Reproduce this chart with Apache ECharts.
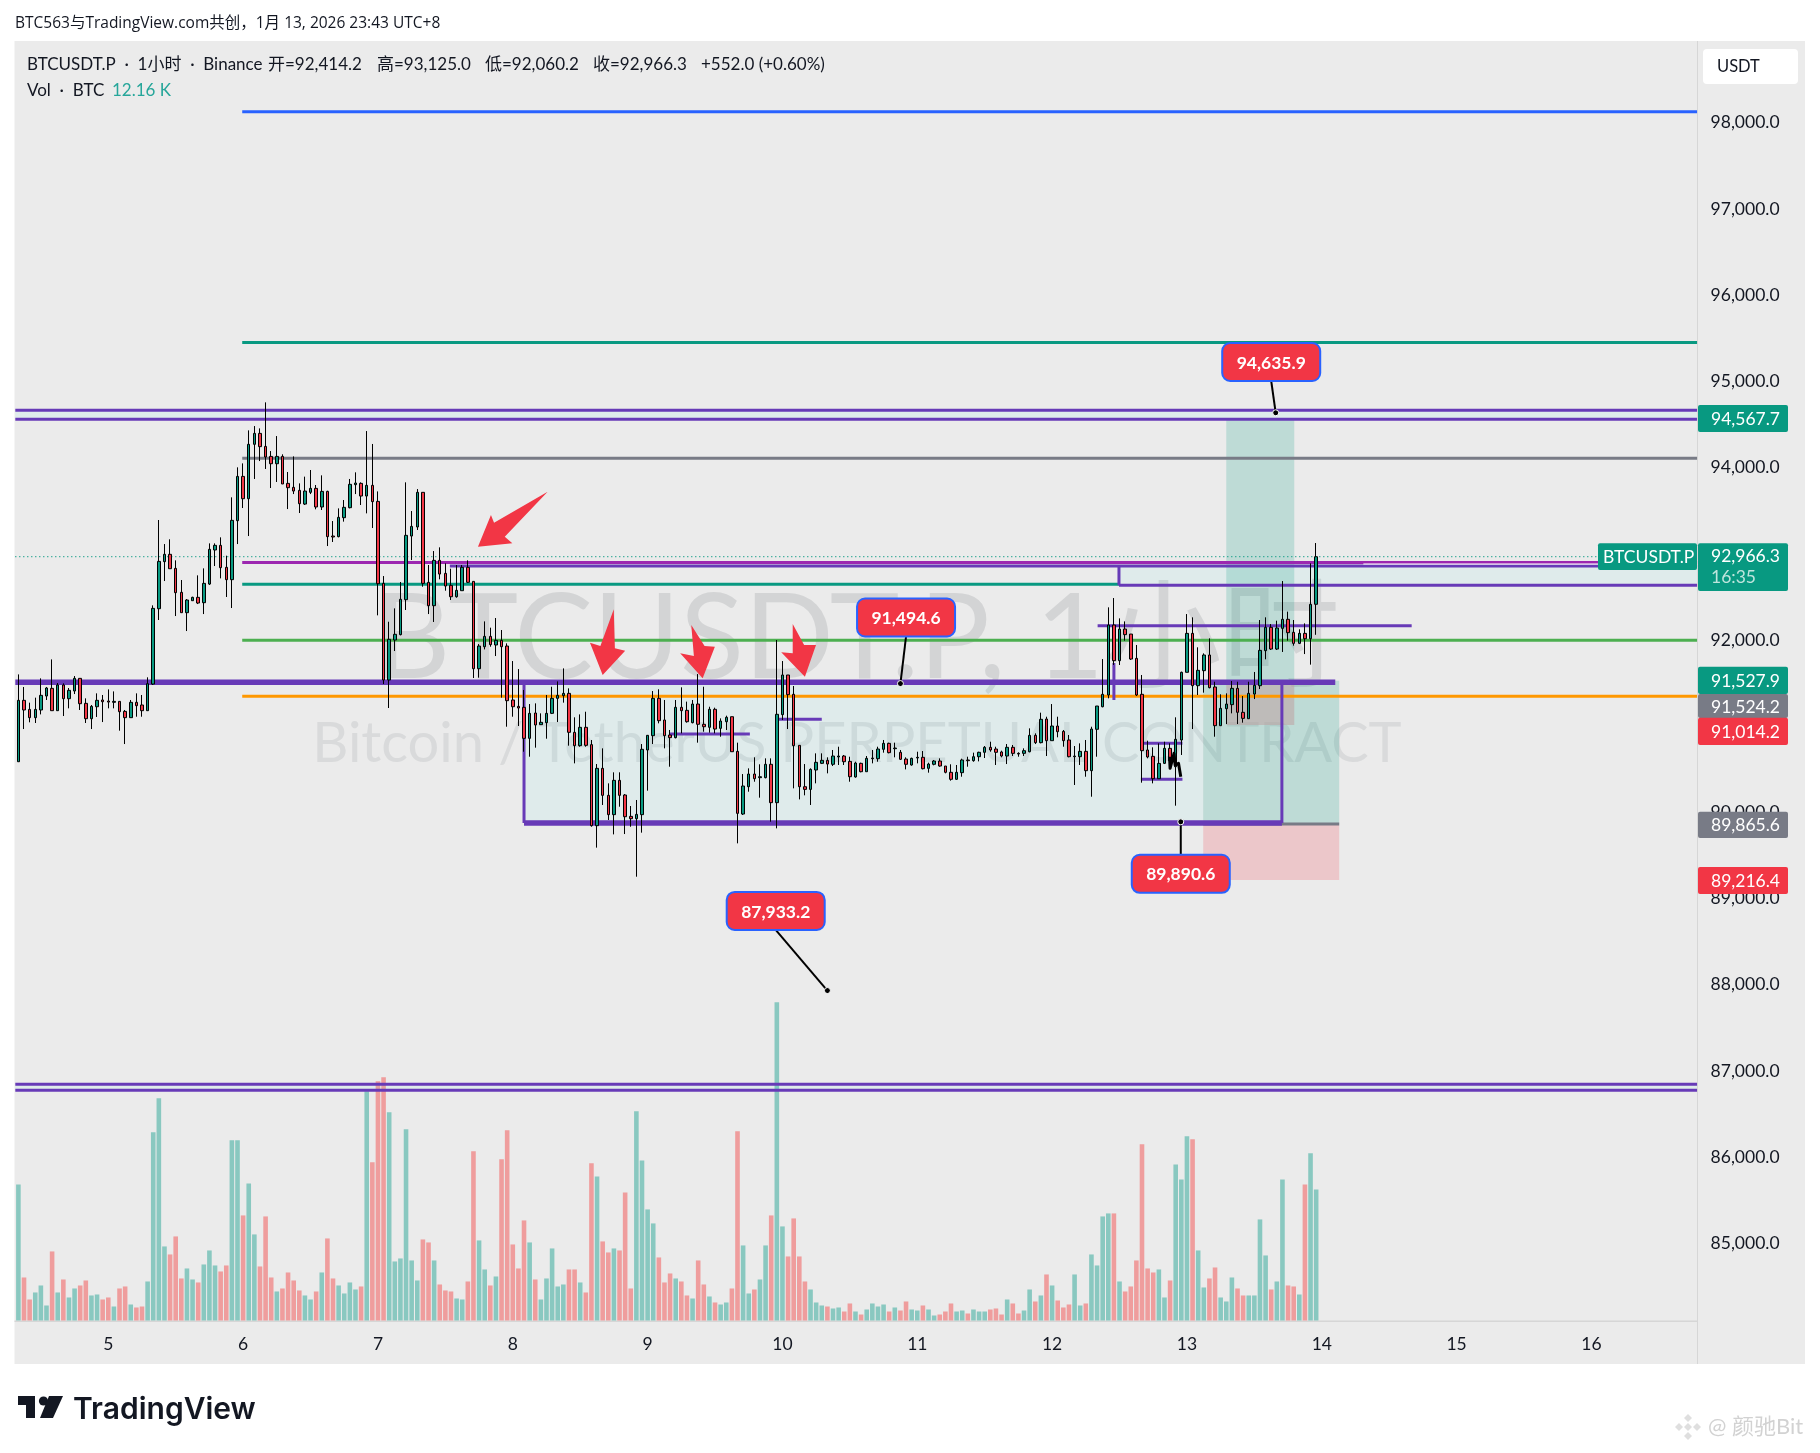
<!DOCTYPE html>
<html>
<head>
<meta charset="utf-8">
<title>BTCUSDT.P 1H</title>
<script src="https://cdn.jsdelivr.net/npm/echarts@6/dist/echarts.min.js"></script>
<style>
html, body { margin: 0; padding: 0; background: #fff; }
#chart { width: 1820px; height: 1453px; }
</style>
</head>
<body>
<div id="chart"></div>
<script>
// hourly candles: [open, close, low, high], first one is Jan 4 08:00
const candles = [
[90588,91300,90588,91601],[91300,91188,90967,91455],[91195,91099,91045,91273],[91099,91195,91037,91331],
[91188,91358,91137,91555],[91350,91443,91304,91455],[91439,91180,91180,91775],[91180,91478,91180,91501],
[91478,91319,91118,91497],[91319,91416,91207,91443],[91408,91555,91373,91582],[91555,91261,91188,91555],
[91265,91087,91037,91323],[91087,91230,90967,91246],[91226,91300,91107,91381],[91304,91284,91048,91362],
[91292,91280,91207,91427],[91277,91288,91207,91404],[91288,91168,90948,91288],[91172,91099,90793,91188],
[91099,91277,91099,91304],[91277,91238,91110,91381],[91246,91180,91110,91362],[91180,91493,91180,91567],
[91489,92367,91478,92402],[92363,92912,92232,93392],[92909,92994,92684,93113],[92994,92827,92827,93168],
[92831,92549,92278,92924],[92553,92317,92317,92696],[92317,92464,92104,92475],[92456,92495,92456,92502],
[92495,92429,92417,92750],[92433,92657,92301,92831],[92649,93052,92638,93121],[93044,93098,92858,93121],
[93098,92839,92715,93191],[92843,92700,92499,92978],[92700,93388,92371,93655],[93384,93898,93113,94003],
[93898,93639,93531,94049],[93639,94270,93206,94432],[94270,94397,93868,94482],[94397,94243,94076,94455],
[94246,94123,93984,94757],[94130,94045,93763,94192],[94045,94130,93833,94366],[94130,93810,93810,94154],
[93817,93767,93519,93949],[93771,93728,93693,94130],[93736,93581,93473,93817],[93577,93728,93566,93895],
[93713,93759,93693,93972],[93759,93543,93516,93798],[93543,93724,93508,93910],[93724,93199,93090,93732],
[93206,93195,93137,93380],[93199,93423,93191,93527],[93419,93539,93373,93624],[93535,93806,93527,93868],
[93802,93821,93693,93945],[93817,93670,93566,93829],[93670,93794,93469,94424],[93794,93605,93299,94274],
[93608,92653,92286,93724],[92657,91536,91489,92742],[91536,92008,91211,92212],[92000,92066,91872,92367],
[92062,92472,92054,92673],[92468,93214,92348,93829],[93206,93318,92928,93496],[93311,93713,93276,93751],
[93713,92657,92618,93713],[92669,92398,92301,92870],[92398,92924,92209,93032],[92924,92765,92704,93075],
[92773,92626,92572,92889],[92634,92502,92464,92827],[92502,92576,92491,92870],[92572,92843,92572,92870],
[92843,92669,92661,92924],[92680,91667,91559,92680],[91667,91930,91563,91953],[91922,92042,91891,92216],
[92042,91946,91922,92143],[91942,91996,91814,92255],[91996,91922,91331,92116],[91930,91296,90994,91961],
[91304,91226,91110,91756],[91230,91211,91002,91663],[91219,90859,90704,91420],[90859,91149,90646,91257],
[91153,91014,90751,91265],[91018,91045,91018,91149],[91041,91149,90855,91362],[91149,91323,91141,91458],
[91323,91358,91048,91520],[91354,91381,91273,91671],[91381,90929,90774,91439],[90929,90774,90569,91103],
[90774,90987,90762,91137],[90987,90778,90762,91168],[90786,89846,89834,90840],[89846,90511,89591,90561],
[90511,90198,90086,90743],[90198,89974,89912,90337],[89974,90372,89745,90465],[90372,90198,90066,90465],
[90202,89950,89749,90213],[89954,89927,89834,90074],[89927,89977,89254,90144],[89974,90732,89765,90793],
[90724,90894,90252,90898],[90890,91323,90793,91408],[91323,91064,91033,91428],[91072,90890,90743,91304],
[90898,90867,90530,90956],[90867,91219,90859,91304],[91219,91180,90917,91451],[91184,91052,91041,91285],
[91041,91257,91033,91304],[91257,91022,90809,91605],[91022,90994,90936,91458],[90987,91196,90925,91226],
[91196,90967,90917,91215],[90975,91060,90878,91091],[91052,91103,90956,91122],[91110,90704,90704,91110],
[90708,89989,89641,90809],[89981,90306,89970,90445],[90298,90445,90240,90511],[90445,90391,90356,90639],
[90403,90414,90171,90558],[90403,90558,90395,90627],[90558,90113,89892,90627],[90113,91138,89815,92000],
[91134,91594,91072,91756],[91594,91366,90967,91594],[91370,90774,90279,91466],[90778,90298,90151,90778],
[90298,90267,90198,90561],[90267,90499,90086,90511],[90492,90581,90337,90685],[90569,90604,90561,90685],
[90604,90561,90453,90639],[90558,90654,90538,90724],[90643,90654,90550,90762],[90654,90588,90550,90666],
[90592,90414,90356,90646],[90411,90573,90403,90588],[90569,90472,90465,90577],[90472,90627,90472,90654],
[90623,90631,90569,90724],[90623,90735,90588,90762],[90732,90801,90693,90840],[90801,90693,90685,90809],
[90739,90747,90639,90809],[90697,90616,90608,90724],[90619,90558,90499,90639],[90550,90627,90542,90635],
[90631,90639,90569,90704],[90639,90507,90499,90712],[90511,90561,90461,90577],[90558,90596,90546,90608],
[90596,90538,90530,90627],[90538,90465,90453,90538],[90465,90384,90368,90558],[90384,90465,90376,90550],
[90461,90608,90414,90623],[90608,90600,90530,90646],[90600,90646,90588,90693],[90646,90697,90592,90704],
[90697,90755,90631,90770],[90755,90724,90704,90820],[90735,90697,90550,90762],[90701,90654,90639,90716],
[90654,90755,90561,90793],[90755,90685,90654,90782],[90685,90677,90646,90697],[90685,90716,90654,90743],
[90704,90894,90697,90975],[90894,90809,90793,90917],[90809,91080,90801,91157],[91083,90832,90654,91110],
[90832,91002,90832,91257],[91002,90936,90871,91110],[90940,90832,90762,90956],[90840,90646,90639,90898],
[90646,90654,90318,90770],[90646,90708,90550,90801],[90708,90484,90414,90840],[90484,90967,90182,90994],
[90964,91234,90646,91234],[91226,91370,91219,91779],[91362,92174,91323,92379],[92174,91760,91710,92487],
[91760,92127,91710,92251],[92127,92062,91992,92216],[92069,91779,91768,92069],[91787,91362,91350,91942],
[91370,90716,90345,91594],[90724,90643,90627,90832],[90650,90391,90337,90755],[90391,90569,90391,90801],
[90569,90743,90561,90820],[90743,90600,90530,90801],[90530,90848,90078,91103],[90840,91625,90666,91633],
[91625,92077,91625,92301],[92077,91470,90967,92263],[91470,91648,91362,91915],[91644,91826,91389,91845],
[91826,91447,91439,92019],[91455,91006,90878,91516],[91006,91207,91006,91370],[91203,91257,91025,91381],
[91250,91439,91149,91524],[91439,91161,91025,91516],[91161,91091,91041,91350],[91087,91381,91087,91516],
[91373,91474,91315,91629],[91470,91880,91431,92232],[91876,92147,91776,92263],[92147,91895,91884,92185],
[91895,92139,91884,92224],[92135,92240,91861,92684],[92240,92085,91992,92329],[92089,91961,91934,92232],
[91961,92077,91953,92124],[92077,92015,91837,92193],[92015,92414,91714,92889],[92414.2,92966.3,92060.2,93125]
];

// BTC traded per hour
const volumes = [
12624,3991,1949,2599,3249,1392,6405,2599,3806,2135,2970,3249,3713,2321,2413,1949,2135,1299,2970,3156,
1485,1207,1299,3620,17450,20606,6869,6126,7797,3898,4827,3806,3527,5198,6497,5105,4548,5105,16708,16708,
9746,12716,7983,5012,9653,3991,2692,2970,4455,3713,2785,2321,1949,2692,4455,7611,3898,3249,2506,3527,
2877,3156,21256,14666,22184,22555,19307,5476,5755,17729,5569,3713,7518,7240,5569,3342,2785,2692,2042,1949,
3620,15687,7426,4734,3249,4084,14944,17636,7054,4827,9282,7240,3806,1949,3898,6683,3156,3342,4734,4734,
3527,2599,14573,13366,7333,6312,6683,6497,11881,2970,19399,14851,10303,9004,5848,3527,4363,3898,3620,2321,
2042,5569,3342,2228,1671,1485,1671,2970,17543,6962,2506,2877,3806,6962,9746,29517,8725,5940,9468,5940,
3620,2877,1671,1392,1299,1114,1207,835,1578,835,557,1021,1578,1299,1485,835,1207,928,1764,1021,
928,1392,1021,464,557,835,1578,835,928,650,1021,835,835,1021,1114,557,1949,1578,650,928,
2877,1764,2321,4270,3249,1856,1207,1485,4270,1392,1578,6126,5105,9653,9932,9932,3620,2692,3156,5569,
16336,4827,4455,4734,2135,3713,14480,13088,17079,16800,6497,3063,3898,4919,2135,1764,3991,2970,2321,2321,
2321,9375,6033,2877,3620,13088,3249,3156,2413,12624,15501,12160
];

const dayLabels = ['5','6','7','8','9','10','11','12','13','14','15','16'];
const firstDayHour = 16;
const totalHours = 300;

// drawings on the chart, in [hour, price, hour, price]
const fullLeft = -0.55;
const fullRight = 298.8;
const purpleHeavy = [[fullLeft,91509,234.4,91509],[90.0,89877,224.9,89877]];
const purpleLines = [
  [fullLeft,94665,fullRight,94665],[fullLeft,94560,fullRight,94560],
  [fullLeft,86846,fullRight,86846],[fullLeft,86777,fullRight,86777],
  [76.8,92859,fullRight,92859],[195.9,92635,fullRight,92635],[195.9,92859,195.9,92635],
  [90.0,91509,90.0,89877],[224.9,91509,224.9,89877],
  [115.9,90910,130.2,90910],[135.0,91080,143.0,91080],[192.1,92166,248.0,92166],
  [195.0,91733,195.0,91304],[200.3,90802,207.2,90802],[199.8,90384,207.2,90384]
];
const magentaLines = [[39.84,92899,fullRight,92899]];
const whiteLines = [[239.4,92882,fullRight,92882]];
const blueLines = [[39.84,98129,fullRight,98129]];
const tealLines = [[39.84,95452,fullRight,95452],[39.84,92646,195.9,92646]];
const greyLines = [[39.84,94108,fullRight,94108],[210.9,89865.6,235.1,89865.6]];
const greenLines = [[39.84,91997,fullRight,91997]];
const orangeLines = [[39.84,91347,fullRight,91347]];

// shaded zones
const paleZones = [[fullLeft,94665,fullRight,94560],[fullLeft,86846,fullRight,86777],[195.9,92859,fullRight,92635],[90.0,91509,210.9,89877]];
const profitZones = [[210.9,91527.9,235.1,89865.6],[215.0,94567.7,227.1,91524.2]];
const lossZones = [[210.9,89865.6,235.1,89216.4]];
const overlapZones = [[215.0,91524.2,227.1,91014.2]];

const scribble = [[204.9,90646],[205.0,90511],[205.7,90685],[205.9,90550],[206.5,90569],[206.9,90414]];

// tips of the four red arrows
const arrowTips = [[81.8,93082],[104.0,91594],[121.8,91556],[140.0,91574]];
const arrowOutlines = [
  [[0,0],[13,-31.7],[16.1,-24],[69.7,-55],[26.8,-10],[34.4,-3.4]],
  [[0,0],[-12.7,-32.3],[-2.3,-29],[11.1,-65.7],[12.2,-26.7],[22.5,-24.3]],
  [[0,0],[-22.5,-25],[-8.8,-22.3],[-11.4,-53.3],[1.9,-32.3],[12.2,-31.6]],
  [[0,0],[-23.7,-24.4],[-12.2,-23.4],[-12.2,-52.7],[-0.8,-31.7],[11.1,-31.7]]
];

// price callouts: text, the point it marks, centre of its box
const calloutTexts = ['94,635.9','91,494.6','87,933.2','89,890.6'];
const calloutPoints = [[223.8,94635.9],[157.0,91494.6],[144.0,87933.2],[206.9,89890.6]];
const calloutBoxes = [[223.0,95225],[158.0,92261],[134.8,88857],[206.9,89288]];

const priceTicksMin = 84000;
const priceTicksMax = 99000;

const UP = '#089981';
const DOWN = '#f23645';
const PURPLE = '#673ab7';
const FONT = 'Lato, "Noto Sans CJK SC", sans-serif';
const TEXT = '#131722';

let categories = [];
for (let i = 0; i < totalHours; i++) {
    let day = (i - firstDayHour) / 24;
    categories.push(Number.isInteger(day) && dayLabels[day] ? dayLabels[day] : '');
}

let shapes = [];
let addRects = function (rows, fill) {
    rows.forEach(r => shapes.push({type: 'rect', r: r, fill: fill}));
};
let addLines = function (rows, color, width) {
    rows.forEach(r => shapes.push({type: 'line', r: r, color: color, width: width}));
};
addRects(paleZones, 'rgba(0,230,230,0.05)');
addRects(profitZones, 'rgba(8,153,129,0.2)');
addRects(lossZones, 'rgba(242,54,69,0.2)');
addRects(overlapZones, 'rgba(190,165,165,0.6)');
addLines(blueLines, '#2962ff', 3);
addLines(tealLines, UP, 3);
addLines(greyLines, '#787b86', 3);
addLines(greenLines, '#4caf50', 3);
addLines(orangeLines, '#ff9800', 3);
addLines(magentaLines, '#9c27b0', 3);
addLines(purpleLines, PURPLE, 3);
addLines(purpleHeavy, PURPLE, 5.5);
addLines(whiteLines, '#ffffff', 1);

let renderDrawing = function (params, api) {
    let s = shapes[params.dataIndex];
    let a = api.coord([s.r[0], s.r[1]]);
    let b = api.coord([s.r[2], s.r[3]]);
    if (s.type === 'rect') {
        return {type: 'rect', shape: {x: a[0], y: a[1], width: b[0] - a[0], height: b[1] - a[1]}, style: {fill: s.fill}};
    }
    return {type: 'line', shape: {x1: a[0], y1: a[1], x2: b[0], y2: b[1]}, style: {stroke: s.color, lineWidth: s.width}};
};

let renderArrow = function (params, api) {
    let tip = api.coord(arrowTips[params.dataIndex]);
    let points = arrowOutlines[params.dataIndex].map(p => [tip[0] + p[0], tip[1] + p[1]]);
    return {type: 'polygon', shape: {points: points}, style: {fill: DOWN}};
};

let renderCallout = function (params, api) {
    let i = params.dataIndex;
    let point = api.coord(calloutPoints[i]);
    let box = api.coord(calloutBoxes[i]);
    return {
        type: 'group',
        children: [
            {type: 'line', shape: {x1: box[0], y1: box[1] + 19, x2: point[0], y2: point[1]}, style: {stroke: '#000', lineWidth: 2}},
            {type: 'circle', shape: {cx: point[0], cy: point[1], r: 3}, style: {fill: '#000', stroke: '#fff', lineWidth: 1}},
            {type: 'rect', shape: {x: box[0] - 49, y: box[1] - 19, width: 98, height: 38, r: 8}, style: {fill: DOWN, stroke: '#2962ff', lineWidth: 2}},
            {type: 'text', style: {x: box[0], y: box[1] + 1, text: calloutTexts[i], fill: '#fff', font: '700 17.5px ' + FONT, align: 'center', verticalAlign: 'middle'}}
        ]
    };
};

let renderScribble = function (params, api) {
    return {
        type: 'polyline',
        shape: {points: scribble.map(p => api.coord(p))},
        style: {stroke: '#000', lineWidth: 3, fill: 'none', lineJoin: 'round'}
    };
};

// things that sit on the panel and are not data
let textEl = function (x, y, text, font, fill, z, align) {
    return {type: 'text', z: z, x: x, y: y, style: {text: text, font: font, fill: fill, align: align || 'left', verticalAlign: 'middle'}};
};
let tagEl = function (y0, y1, fill, text) {
    return [
        {type: 'rect', z: 50, shape: {x: 1698, y: y0, width: 90, height: y1 - y0, r: 2}, style: {fill: fill}},
        textEl(1711, (y0 + y1) / 2 + 1, text, '17.5px ' + FONT, '#fff', 51)
    ];
};
let diamond = function (cx, cy, r) {
    return {type: 'polygon', z: 60, shape: {points: [[cx, cy - r], [cx + r, cy], [cx, cy + r], [cx - r, cy]]}, style: {fill: '#dfdfdf'}};
};

const LEGEND = '17px ' + FONT;
let graphics = [
    {type: 'rect', z: -20, shape: {x: 14.5, y: 41, width: 1790.5, height: 1323}, style: {fill: '#ebebeb'}},
    {type: 'rect', z: -19, shape: {x: 1697, y: 41, width: 1, height: 1323}, style: {fill: '#d6d6d6'}},
    {type: 'rect', z: -19, shape: {x: 14.5, y: 1320.5, width: 1683, height: 1.5}, style: {fill: '#d6d6d6'}},
    textEl(857, 640, 'BTCUSDT.P, 1小时', '118px ' + FONT, '#d3d4d5', -10, 'center'),
    textEl(857, 744, 'Bitcoin / TetherUS PERPETUAL CONTRACT', '56px ' + FONT, '#d9dadb', -10, 'center'),
    textEl(15, 24, 'BTC563与TradingView.com共创，1月 13, 2026 23:43 UTC+8', '15.5px "Open Sans", "Noto Sans CJK SC", sans-serif', TEXT, 60),
    textEl(27, 65, 'BTCUSDT.P  ·  1小时  ·  Binance', LEGEND, TEXT, 60),
    textEl(268, 65, '开=92,414.2', LEGEND, TEXT, 60),
    textEl(377, 65, '高=93,125.0', LEGEND, TEXT, 60),
    textEl(485, 65, '低=92,060.2', LEGEND, TEXT, 60),
    textEl(593, 65, '收=92,966.3', LEGEND, TEXT, 60),
    textEl(701, 65, '+552.0 (+0.60%)', LEGEND, TEXT, 60),
    textEl(27, 91, 'Vol  ·  BTC', LEGEND, TEXT, 60),
    textEl(112, 91, '12.16 K', LEGEND, '#26a69a', 60),
    {type: 'rect', z: 50, shape: {x: 1703, y: 49, width: 95, height: 35, r: 4}, style: {fill: '#fff'}},
    textEl(1717, 67, 'USDT', '16.5px ' + FONT, TEXT, 51),
    {type: 'rect', z: 50, shape: {x: 1598, y: 543.3, width: 99, height: 26.7, r: 2}, style: {fill: UP}},
    textEl(1603, 557.5, 'BTCUSDT.P', '17.5px ' + FONT, '#fff', 51),
    {type: 'rect', z: 50, shape: {x: 1698, y: 543.3, width: 90, height: 47.7, r: 2}, style: {fill: UP}},
    textEl(1711, 556.5, '92,966.3', '17.5px ' + FONT, '#fff', 51),
    textEl(1711, 577.5, '16:35', '17.5px ' + FONT, '#bfe5dd', 51),
    // TradingView logo
    {type: 'polygon', z: 60, shape: {points: [[18, 1396], [35, 1396], [35, 1418], [26, 1418], [26, 1405], [18, 1405]]}, style: {fill: '#131722'}},
    {type: 'circle', z: 60, shape: {cx: 43.5, cy: 1401, r: 4.6}, style: {fill: '#131722'}},
    {type: 'polygon', z: 60, shape: {points: [[49, 1396], [63, 1396], [53, 1418], [40, 1418]]}, style: {fill: '#131722'}},
    textEl(73, 1410, 'TradingView', '600 30px Inter, ' + FONT, '#131722', 60),
    // repost mark in the corner
    diamond(1688, 1427, 4),
    diamond(1688, 1418, 4),
    diamond(1688, 1436, 4),
    diamond(1679, 1427, 4),
    diamond(1697, 1427, 4),
    textEl(1708, 1427, '@ 颜驰Bit', '22px ' + FONT, '#d2d2d2', 60)
];
graphics = graphics
    .concat(tagEl(405, 432, UP, '94,567.7'))
    .concat(tagEl(666.7, 694, UP, '91,527.9'))
    .concat(tagEl(694, 718, '#787b86', '91,524.2'))
    .concat(tagEl(717.7, 745, DOWN, '91,014.2'))
    .concat(tagEl(811.7, 838, '#787b86', '89,865.6'))
    .concat(tagEl(867, 894, DOWN, '89,216.4'));

let option = {
    animation: false,
    backgroundColor: '#fff',
    textStyle: {fontFamily: FONT},
    graphic: {elements: graphics},
    grid: [
        {left: 15.59, width: 1685.4, top: 36.6, height: 1293},
        {left: 15.59, width: 1685.4, top: 900, height: 420.5}
    ],
    xAxis: [
        {type: 'category', gridIndex: 0, data: categories, show: false},
        {type: 'value', gridIndex: 0, min: -0.5, max: totalHours - 0.5, show: false},
        {
            type: 'category',
            gridIndex: 1,
            data: categories,
            axisLine: {show: false},
            axisTick: {show: false},
            axisLabel: {interval: 0, color: TEXT, fontSize: 17.5, fontFamily: FONT, margin: 15, hideOverlap: false}
        }
    ],
    yAxis: [
        {
            type: 'value',
            gridIndex: 0,
            position: 'right',
            min: priceTicksMin,
            max: priceTicksMax,
            interval: 1000,
            splitLine: {show: false},
            axisLine: {show: false},
            axisTick: {show: false},
            axisLabel: {
                color: TEXT,
                fontSize: 17.5,
                fontFamily: FONT,
                margin: 9.6,
                padding: [0, 0, 4, 0],
                formatter: v => (v === priceTicksMin || v === priceTicksMax) ? '' : v.toLocaleString('en-US', {minimumFractionDigits: 1})
            }
        },
        {type: 'value', gridIndex: 1, min: 0, max: 39000, show: false}
    ],
    series: [
        {
            name: 'Vol',
            type: 'bar',
            xAxisIndex: 2,
            yAxisIndex: 1,
            z: 0,
            barWidth: 4.6,
            data: volumes.map((v, i) => ({
                value: v,
                itemStyle: {color: candles[i][1] >= candles[i][0] ? '#89c8c0' : '#ef9d9d'}
            }))
        },
        {
            name: 'drawings',
            type: 'custom',
            xAxisIndex: 1,
            yAxisIndex: 0,
            z: 1,
            clip: false,
            silent: true,
            renderItem: renderDrawing,
            data: shapes.map(s => [s.r[0], s.r[1]])
        },
        {
            name: 'last price',
            type: 'line',
            xAxisIndex: 1,
            yAxisIndex: 0,
            z: 1,
            showSymbol: false,
            lineStyle: {color: UP, width: 1.2, type: [1, 3]},
            data: [[fullLeft, candles[candles.length - 1][1]], [fullRight, candles[candles.length - 1][1]]],
            clip: false
        },
        {
            name: 'BTCUSDT.P',
            type: 'candlestick',
            xAxisIndex: 0,
            yAxisIndex: 0,
            z: 2,
            barWidth: 3,
            itemStyle: {color: UP, color0: DOWN, borderColor: '#000', borderColor0: '#000', borderWidth: 1},
            data: candles
        },
        {
            name: 'scribble',
            type: 'custom',
            xAxisIndex: 1,
            yAxisIndex: 0,
            z: 5,
            silent: true,
            renderItem: renderScribble,
            data: [scribble[0]]
        },
        {
            name: 'arrows',
            type: 'custom',
            xAxisIndex: 1,
            yAxisIndex: 0,
            z: 5,
            silent: true,
            renderItem: renderArrow,
            data: arrowTips
        },
        {
            name: 'callouts',
            type: 'custom',
            xAxisIndex: 1,
            yAxisIndex: 0,
            z: 6,
            silent: true,
            renderItem: renderCallout,
            data: calloutPoints
        }
    ]
};

let chart = echarts.init(document.getElementById('chart'));
chart.setOption(option);
</script>
</body>
</html>
